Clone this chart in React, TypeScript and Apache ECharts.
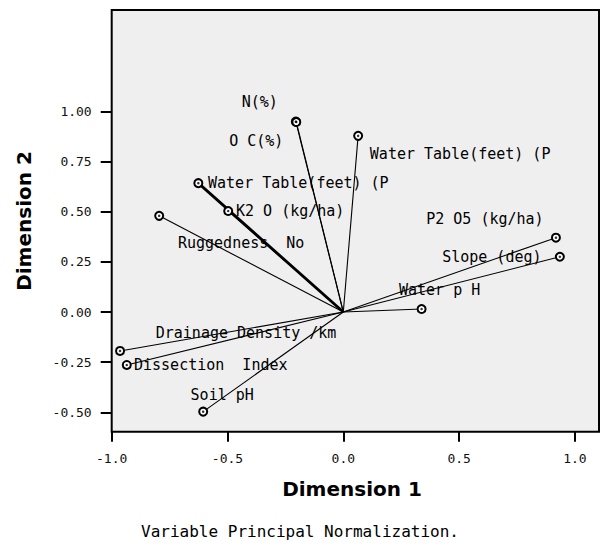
import React, { useEffect, useRef } from "react";
import * as echarts from "echarts";

// Variable names (as printed on the plot)
const variables = [
  "N(%)",
  "O C(%)",
  "Water Table(feet) (P",
  "Water Table(feet) (P",
  "K2 O (kg/ha)",
  "Ruggedness  No",
  "P2 O5 (kg/ha)",
  "Slope (deg)",
  "Water p H",
  "Drainage Density /km",
  "Dissection  Index",
  "Soil pH",
];
// Component loadings
const dim1 = [-0.205, -0.203, 0.064, -0.626, -0.497, -0.795, 0.918, 0.935, 0.338, -0.964, -0.935, -0.605];
const dim2 = [0.95, 0.948, 0.879, 0.643, 0.504, 0.48, 0.371, 0.276, 0.015, -0.194, -0.264, -0.497];

const xTicks = [-1, -0.5, 0, 0.5, 1];
const yTicks = [-0.5, -0.25, 0, 0.25, 0.5, 0.75, 1];

const xTitle = "Dimension 1";
const yTitle = "Dimension 2";
const caption = "Variable Principal Normalization.";

// label placement (pixel offset of label centre from marker centre)
const labelOffsets: [number, number][] = [
  [-36, -20],
  [-40, 19],
  [102, 18],
  [100, 0],
  [62, 0],
  [82, 27],
  [-71, -19],
  [-68, 0],
  [18, -19],
  [126, -18],
  [84, 0],
  [19, -17],
];
// line widths (the left water-table vector is drawn heavy in the source)
const lineWidths = [1.1, 1.1, 1.1, 2.8, 1.1, 1.1, 1.1, 1.1, 1.1, 1.1, 1.1, 1.1];

const MONO = "'DejaVu Sans Mono', monospace";

export default function App() {
  const ref = useRef<HTMLDivElement>(null);
  useEffect(() => {
    if (!ref.current) return;
    const chart = echarts.init(ref.current, undefined, { renderer: "svg" });

    const series: any[] = variables.map((name, i) => ({
      type: "line",
      name: name + i,
      data: [
        { value: [0, 0], symbol: "none" },
        {
          value: [dim1[i], dim2[i]],
          label: {
            show: true,
            formatter: name,
            position: "inside",
            offset: labelOffsets[i],
            align: "center",
            verticalAlign: "middle",
            fontFamily: MONO,
            fontSize: 15,
            color: "#000",
          },
        },
      ],
      symbol: "emptyCircle",
      symbolSize: 8,
      itemStyle: { color: "#000", borderColor: "#000", borderWidth: 1.5 },
      lineStyle: { color: "#000", width: lineWidths[i] },
      emphasis: { disabled: true },
      silent: true,
      z: 3,
    }));
    series.push({
      type: "scatter",
      data: dim1.map((x, i) => [x, dim2[i]]),
      symbol: "circle",
      symbolSize: 2.5,
      itemStyle: { color: "#000" },
      silent: true,
      z: 4,
    });

    chart.setOption({
      animation: false,
      backgroundColor: "#ffffff",
      grid: {
        left: 111.7,
        top: 10,
        right: 2,
        bottom: 114.3,
        show: true,
        backgroundColor: "#efefef",
        borderColor: "#000",
        borderWidth: 2,
      },
      xAxis: {
        type: "value",
        min: -1,
        max: 1.104,
        position: "bottom",
        axisLine: { show: false, onZero: false },
        splitLine: { show: false },
        axisTick: {
          show: true,
          customValues: xTicks,
          length: 10,
          lineStyle: { color: "#000", width: 2 },
        },
        axisLabel: {
          customValues: xTicks,
          formatter: (v: number) => v.toFixed(1),
          margin: 20,
          fontFamily: MONO,
          fontSize: 13,
          color: "#111",
        },
      },
      yAxis: {
        type: "value",
        min: -0.597,
        max: 1.507,
        position: "left",
        axisLine: { show: false, onZero: false },
        splitLine: { show: false },
        axisTick: {
          show: true,
          customValues: yTicks,
          length: 11,
          lineStyle: { color: "#000", width: 2 },
        },
        axisLabel: {
          customValues: yTicks,
          formatter: (v: number) => v.toFixed(2),
          margin: 20,
          fontFamily: MONO,
          fontSize: 13,
          color: "#111",
        },
      },
      graphic: [
        {
          type: "text",
          x: 352,
          y: 489,
          style: {
            text: xTitle,
            fontFamily: "'DejaVu Sans', sans-serif",
            fontWeight: "bold",
            fontSize: 20,
            fill: "#000",
            align: "center",
            verticalAlign: "middle",
          },
        },
        {
          type: "text",
          x: 24,
          y: 221,
          rotation: Math.PI / 2,
          style: {
            text: yTitle,
            fontFamily: "'DejaVu Sans', sans-serif",
            fontWeight: "bold",
            fontSize: 20,
            fill: "#000",
            align: "center",
            verticalAlign: "middle",
          },
        },
        {
          type: "text",
          x: 300,
          y: 531,
          style: {
            text: caption,
            fontFamily: MONO,
            fontSize: 16,
            fill: "#000",
            align: "center",
            verticalAlign: "middle",
          },
        },
      ],
      series,
    });
    return () => chart.dispose();
  }, []);
  return (
    <div
      ref={ref}
      style={{ position: "fixed", left: 0, top: 0, width: 601, height: 546 }}
    />
  );
}
